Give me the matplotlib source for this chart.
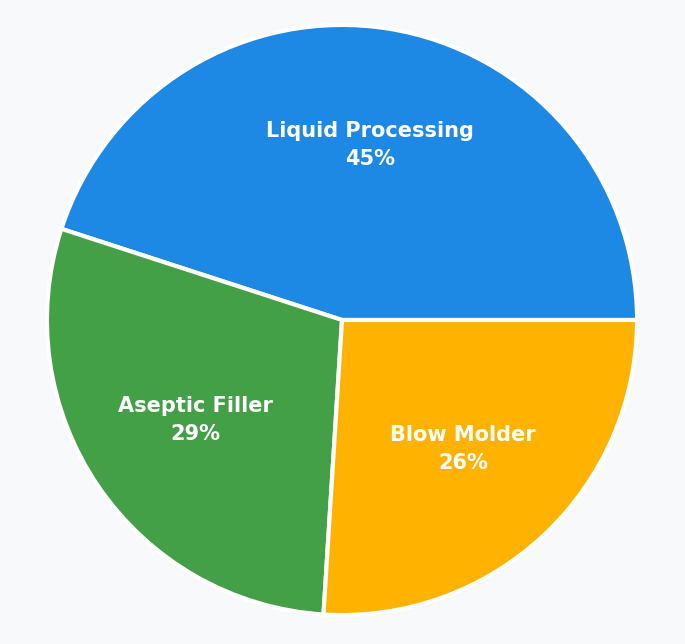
import matplotlib
matplotlib.use("Agg")
import matplotlib.pyplot as plt

categories = ["Liquid Processing", "Aseptic Filler", "Blow Molder"]
values = [45, 29, 26]
colors = ["#1e88e5", "#43a047", "#ffb300"]

W, H = 685, 644
fig = plt.figure(figsize=(W/100, H/100), dpi=100, facecolor="#f8f9fb")
cx, cy, r = 342, 320, 298
ax = fig.add_axes([(cx-r)/W, (H-cy-r)/H, 2*r/W, 2*r/H])
ax.set_facecolor("#f8f9fb")
labels = [f"{c}\n{v}%" for c, v in zip(categories, values)]
wedges, texts = ax.pie(values, colors=colors, startangle=0, counterclock=True,
                       labels=labels, labeldistance=0.6,
                       wedgeprops=dict(edgecolor="white", linewidth=3))
for t in texts:
    t.set_color("white"); t.set_fontsize(15); t.set_fontweight("bold")
    t.set_ha("center"); t.set_va("center"); t.set_linespacing(1.5)
ax.set_xlim(-1.01, 1.01); ax.set_ylim(-1.01, 1.01)
ax.set_aspect("auto")
ax.axis("off")
fig.savefig("out.png", dpi=100, facecolor=fig.get_facecolor())
